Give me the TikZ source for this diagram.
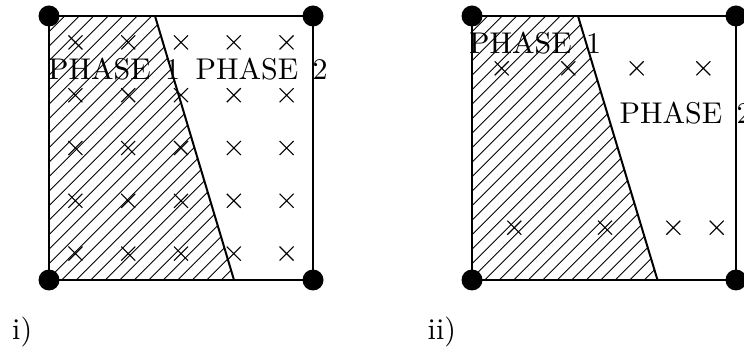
\documentclass[tikz,border=0pt]{standalone}
\usepackage{fontspec}
\newfontfamily\lmten{lmroman10-regular.otf}
\newcommand{\wsp}{\hspace{4.5pt} }
\begin{document}
\begin{tikzpicture}[x=1pt,y=-1pt,
  frame/.style={line width=2pt},
  iface/.style={line width=2pt},
  hatch/.style={line width=0.9pt},
  cross/.style={line width=1.1pt},
  dot/.style={fill=black},
  lbl/.style={inner sep=0pt,font=\lmten\fontsize{30}{36}\selectfont}]
\useasboundingbox (0,0) rectangle (744,352);
% ---------- left panel ----------
\coordinate (Ltl) at (49,16);
\coordinate (Ltr) at (313,16);
\coordinate (Lbl) at (49,280);
\coordinate (Lbr) at (313,280);
\coordinate (Lit) at (155,16);
\coordinate (Lib) at (234,280);
\begin{scope}
  \clip (Ltl) -- (Lit) -- (Lib) -- (Lbl) -- cycle;
  \foreach \k in {0,...,34} {
    \pgfmathsetmacro{\c}{37.3+14.5*\k}
    \draw[hatch] ({\c-320},320) -- ({\c},0);
  }
\end{scope}
\foreach \x in {75.4,128.2,181,233.8,286.6}
  \foreach \y in {42.4,95.2,148,200.8,253.6}
    \draw[cross] ({\x-7},{\y-7}) -- ({\x+7},{\y+7}) ({\x-7},{\y+7}) -- ({\x+7},{\y-7});
\draw[frame] (Ltl) -- (Ltr) -- (Lbr) -- (Lbl) -- cycle;
\draw[iface] (Lit) -- (Lib);
\foreach \p in {Ltl,Ltr,Lbl,Lbr} \fill[dot] (\p) circle (10.5);
\node[lbl,anchor=base west] (LP1) at (48,79.5) {PHASE\wsp1};
\node[lbl,anchor=base west] (LP2) at (195.5,79.5) {PHASE\wsp2};
\node[lbl,anchor=base west] (Li) at (12,340) {i)};
% ---------- right panel ----------
\coordinate (Rtl) at (472,16);
\coordinate (Rtr) at (736,16);
\coordinate (Rbl) at (472,280);
\coordinate (Rbr) at (736,280);
\coordinate (Rit) at (578,16);
\coordinate (Rib) at (657.5,280);
\begin{scope}
  \clip (Rtl) -- (Rit) -- (Rib) -- (Rbl) -- cycle;
  \foreach \k in {0,...,34} {
    \pgfmathsetmacro{\c}{460.3+14.5*\k}
    \draw[hatch] ({\c-320},320) -- ({\c},0);
  }
\end{scope}
\foreach \x in {501.7,568.3,636.7,703.3}
  \draw[cross] ({\x-7},{68.3-7}) -- ({\x+7},{68.3+7}) ({\x-7},{68.3+7}) -- ({\x+7},{68.3-7});
\foreach \x in {514.3,605,673.3,716.7}
  \draw[cross] ({\x-7},{227.7-7}) -- ({\x+7},{227.7+7}) ({\x-7},{227.7+7}) -- ({\x+7},{227.7-7});
\draw[frame] (Rtl) -- (Rtr) -- (Rbr) -- (Rbl) -- cycle;
\draw[iface] (Rit) -- (Rib);
\foreach \p in {Rtl,Rtr,Rbl,Rbr} \fill[dot] (\p) circle (10.5);
\node[lbl,anchor=base west] (RP1) at (469,53.3) {PHASE\wsp1};
\node[lbl,anchor=base west] (RP2) at (619.5,123.3) {PHASE\wsp2};
\node[lbl,anchor=base west] (Rii) at (427.5,340) {ii)};
\end{tikzpicture}
\end{document}
